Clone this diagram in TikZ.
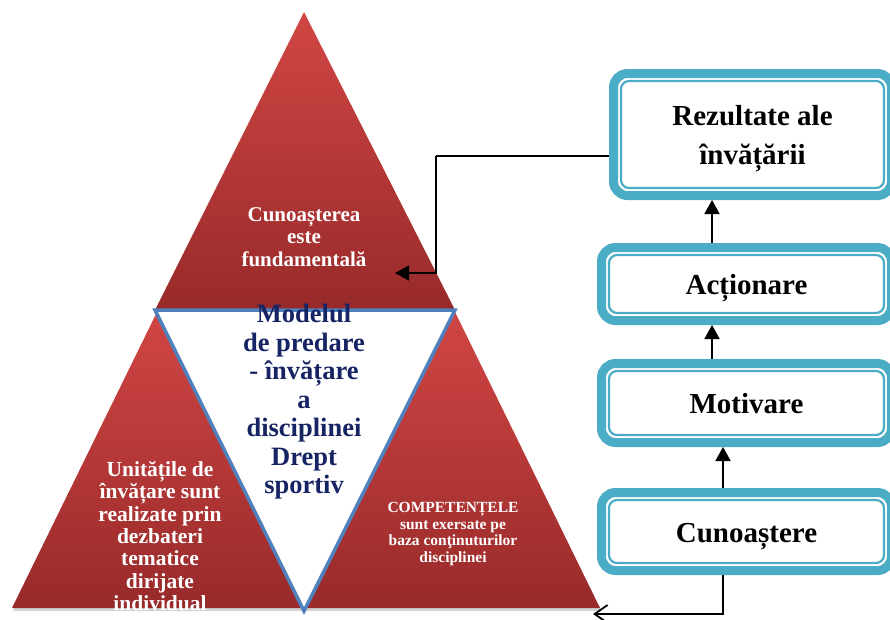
\documentclass[tikz,border=0pt]{standalone}
\usepackage{fontspec}
\setmainfont{Liberation Serif}
\usetikzlibrary{arrows.meta,calc,shadows}
\definecolor{tealb}{RGB}{75,172,198}
\definecolor{blueln}{RGB}{79,129,189}
\definecolor{navyt}{RGB}{22,36,100}
\definecolor{redtop}{RGB}{208,70,68}
\definecolor{redbot}{RGB}{152,42,42}
\tikzset{
  tri/.style={top color=redtop, bottom color=redbot},
  trishadow/.style={drop shadow={opacity=.35, shadow xshift=1pt, shadow yshift=-3pt}},
  boxst/.style={draw=tealb, line width=9pt, rounded corners=14pt, fill=white,
    font=\bfseries\fontsize{29}{39}\selectfont, inner sep=0pt,
    text height=21pt, text depth=0pt},
  innerln/.style={draw=tealb, line width=2.2pt, rounded corners=8pt},
  arr/.style={line width=1.8pt, -{Triangle[length=14pt,width=15pt]}},
  barb/.style={line width=1.8pt, -{Straight Barb[length=13pt,width=18pt]}},
  wtext/.style={text=white, align=center, inner sep=0pt},
}
\begin{document}
\begin{tikzpicture}[x=1pt,y=-1pt]
\useasboundingbox (0,0) rectangle (890,619);
% triangles
\shade[tri] (304,12) -- (455,310) -- (155,310) -- cycle;
\shade[tri, trishadow] (157,312) -- (302,608) -- (12,608) -- cycle;
\shade[tri, trishadow] (455,312) -- (600,608) -- (305,608) -- cycle;
\filldraw[fill=white, draw=blueln, line width=3.5pt, line join=miter] (155,310) -- (455,310) -- (304,611) -- cycle;
% triangle texts
\node[wtext, font=\bfseries\fontsize{21}{22.5}\selectfont] (ttop) at (304,237) {Cunoașterea\\este\\fundamentală};
\node[text=navyt, align=center, inner sep=0pt, font=\bfseries\fontsize{26.5}{28.5}\selectfont] (tmid) at (304,402) {Modelul\\de predare\\- învățare\\a\\disciplinei\\Drept\\sportiv};
\node[wtext, font=\bfseries\fontsize{21.5}{22.3}\selectfont] (tleft) at (160,536) {Unitățile de\\învățare sunt\\realizate prin\\dezbateri\\tematice\\dirijate\\individual};
\node[wtext, font=\bfseries\fontsize{15.5}{16.6}\selectfont] (tright) at (453,534) {COMPETENȚELE\\sunt exersate pe\\baza conţinuturilor\\disciplinei};
% boxes
\node[boxst, minimum width=278pt, minimum height=122pt, text height=0pt, text depth=19pt] (rez) at (752.5,134.5)
  {\begin{tabular}[t]{@{}c@{}}Rezultate ale\\învățării\end{tabular}};
\node[boxst, minimum width=290pt, minimum height=73pt] (act) at (746.5,284) {Acționare};
\node[boxst, minimum width=290pt, minimum height=79pt] (mot) at (746.5,403) {Motivare};
\node[boxst, minimum width=290pt, minimum height=78pt] (cun) at (746.5,531.5) {Cunoaștere};
\foreach \n in {rez,act,mot,cun}
  \draw[innerln] ($(\n.north west)+(12,12)$) rectangle ($(\n.south east)+(-12,-12)$);
% connectors
\coordinate (xa) at (712,0);
\coordinate (xb) at (723,0);
\draw[arr] (act.north -| xa) -- (rez.south -| xa);
\draw[arr] (mot.north -| xa) -- (act.south -| xa);
\draw[arr] (cun.north -| xb) -- (mot.south -| xb);
\coordinate (b1) at (723,614);
\coordinate (bt) at (593,614);
\draw[barb] (cun.south -| xb) -- (b1) -- (bt);
\coordinate (t1) at (436,156);
\coordinate (tt) at (395,273);
\draw[line width=1.8pt] (rez.west |- t1) -- (t1);
\draw[arr] (t1) |- (tt);
\end{tikzpicture}
\end{document}
